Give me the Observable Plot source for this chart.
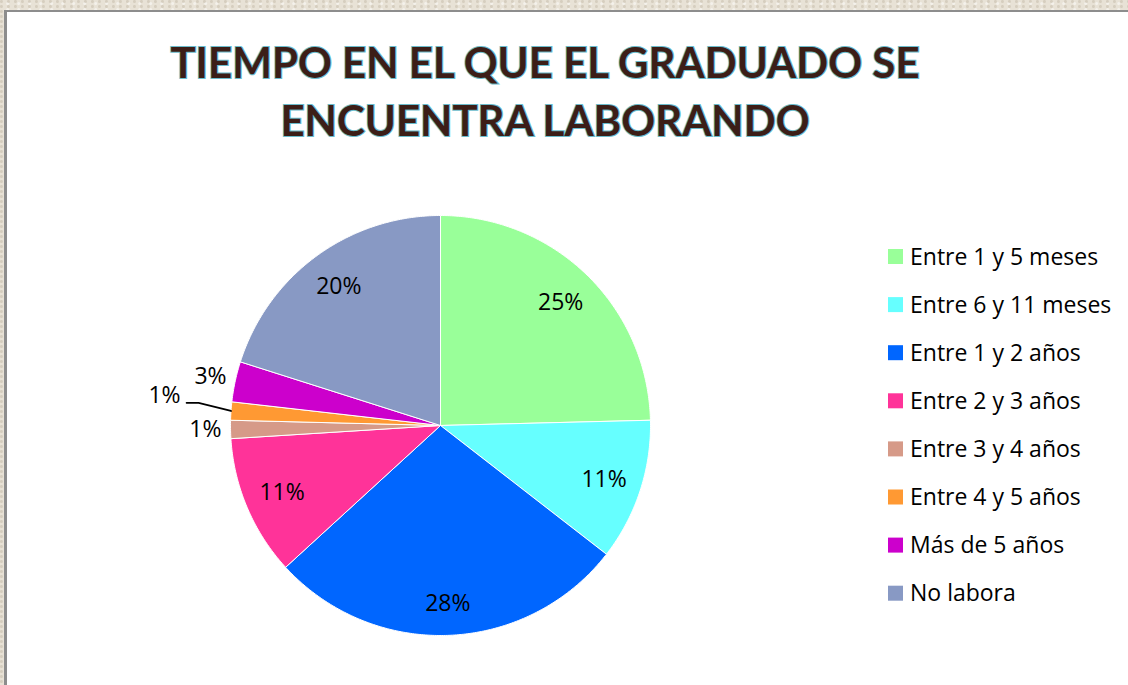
<!DOCTYPE html>
<html><head><meta charset="utf-8">
<script src="https://cdn.jsdelivr.net/npm/d3@7"></script>
<script src="https://cdn.jsdelivr.net/npm/@observablehq/plot@0.6"></script>
<style>
html,body{margin:0;padding:0;}
body{width:1128px;height:685px;position:relative;overflow:hidden;
  background-color:#e8e2d6;
  background-image:radial-gradient(circle at 20% 30%, rgba(180,170,150,.35) 0 1px, transparent 2px),
                   radial-gradient(circle at 70% 60%, rgba(255,255,255,.5) 0 1px, transparent 2px);
  background-size:7px 5px, 11px 6px;}
#panel{position:absolute;left:4px;top:10px;width:1124px;height:675px;background:#fff;
  border-top:2px solid #8d8d8d;border-left:3px solid #8d8d8d;box-sizing:border-box;}
#chart,#overlay{position:absolute;left:0;top:0;}
</style></head><body>
<div id="panel"></div>
<div id="chart"></div>
<svg id="overlay" width="1128" height="685"></svg>
<script>
// ---- data ----
const titleLines = ["TIEMPO EN EL QUE EL GRADUADO SE", "ENCUENTRA LABORANDO"];
const categories = ["Entre 1 y 5 meses", "Entre 6 y 11 meses", "Entre 1 y 2 años", "Entre 2 y 3 años",
                    "Entre 3 y 4 años", "Entre 4 y 5 años", "Más de 5 años", "No labora"];
const values = [24.6, 10.9, 27.7, 10.8, 1.4, 1.4, 3.1, 20.1];
const colors = ["#99FF99", "#66FFFF", "#0066FF", "#FF3399", "#D69A88", "#FF9933", "#CC00CC", "#8899C4"];
const labels = values.map(v => Math.round(v) + "%");

// ---- layout (not data) ----
const R = 210;                 // pie radius in px
const unit = 1 / R;            // data units per px
const insideR = 0.82;
const outsideR = 1.12;
const radiusOverride = {"Entre 1 y 2 años": 0.85};
const leaderCat = "Entre 4 y 5 años";

const arcs = d3.pie().sort(null).value(d => d)(values);
const slices = arcs.map((a, i) => ({cat: categories[i], a0: a.startAngle, a1: a.endAngle,
  mid: (a.startAngle + a.endAngle) / 2, label: labels[i], v: values[i]}));

const pts = [];
for (const s of slices) {
  pts.push({cat: s.cat, x: 0, y: 0});
  const n = Math.max(2, Math.ceil((s.a1 - s.a0) / (Math.PI / 360)));
  for (let k = 0; k <= n; k++) {
    const t = s.a0 + (s.a1 - s.a0) * k / n;
    pts.push({cat: s.cat, x: Math.sin(t), y: Math.cos(t)});
  }
  pts.push({cat: s.cat, x: 0, y: 0});
}

const mainLabels = [];
const leaderLabels = [];
const leaderPts = [];
for (const s of slices) {
  if (s.cat === leaderCat) {
    const e = {x: Math.sin(s.mid), y: Math.cos(s.mid)};
    const ta = s.mid + 1.4 * Math.PI / 180, tr = 1.157;
    const elbow = {x: tr * Math.sin(ta), y: tr * Math.cos(ta)};
    const end = {x: elbow.x - 12 * unit, y: elbow.y};
    leaderPts.push(e, elbow, end);
    leaderLabels.push({x: end.x - 6 * unit, y: end.y, label: s.label});
  } else {
    const r = radiusOverride[s.cat] ?? (s.v < 5 ? outsideR : insideR);
    mainLabels.push({x: r * Math.sin(s.mid), y: r * Math.cos(s.mid), label: s.label});
  }
}

const chart = Plot.plot({
  width: 1128, height: 685, margin: 0,
  x: {domain: [-1, 1], range: [440 - R, 440 + R], axis: null},
  y: {domain: [-1, 1], range: [425 + R, 425 - R], axis: null},
  color: {domain: categories, range: colors},
  style: {background: "transparent", overflow: "visible"},
  marks: [
    Plot.line(pts, {x: "x", y: "y", z: "cat", fill: "cat", stroke: "white", strokeWidth: 1, strokeLinejoin: "miter"}),
    Plot.line(leaderPts, {x: "x", y: "y", stroke: "black", strokeWidth: 1.8, strokeLinejoin: "miter"}),
    Plot.text(mainLabels, {x: "x", y: "y", text: "label", fontSize: 23, fontFamily: "Open Sans", fill: "black"}),
    Plot.text(leaderLabels, {x: "x", y: "y", text: "label", fontSize: 23, fontFamily: "Open Sans", fill: "black",
      textAnchor: "end", lineAnchor: "bottom"})
  ]
});
document.getElementById("chart").appendChild(chart);

// ---- title & legend ----
const ov = d3.select("#overlay");
ov.selectAll("text.title").data(titleLines).join("text")
  .attr("class", "title")
  .attr("x", 545).attr("y", (d, i) => 78 + i * 58)
  .attr("text-anchor", "middle")
  .attr("font-family", "Lato")
  .attr("font-weight", "bold")
  .attr("font-size", 42)
  .attr("fill", "#3c1e17")
  .attr("stroke", "#6bbccc")
  .attr("stroke-width", 2)
  .attr("paint-order", "stroke")
  .text(d => d);

const lg = ov.selectAll("g.leg").data(categories).join("g")
  .attr("class", "leg")
  .attr("transform", (d, i) => `translate(888, ${249 + i * 48.1})`);
lg.append("rect").attr("width", 15).attr("height", 15).attr("fill", (d, i) => colors[i]);
lg.append("text").attr("x", 22).attr("y", 15.5)
  .attr("font-family", "Open Sans").attr("font-size", 23).attr("fill", "black")
  .text(d => d);
</script>
</body></html>
